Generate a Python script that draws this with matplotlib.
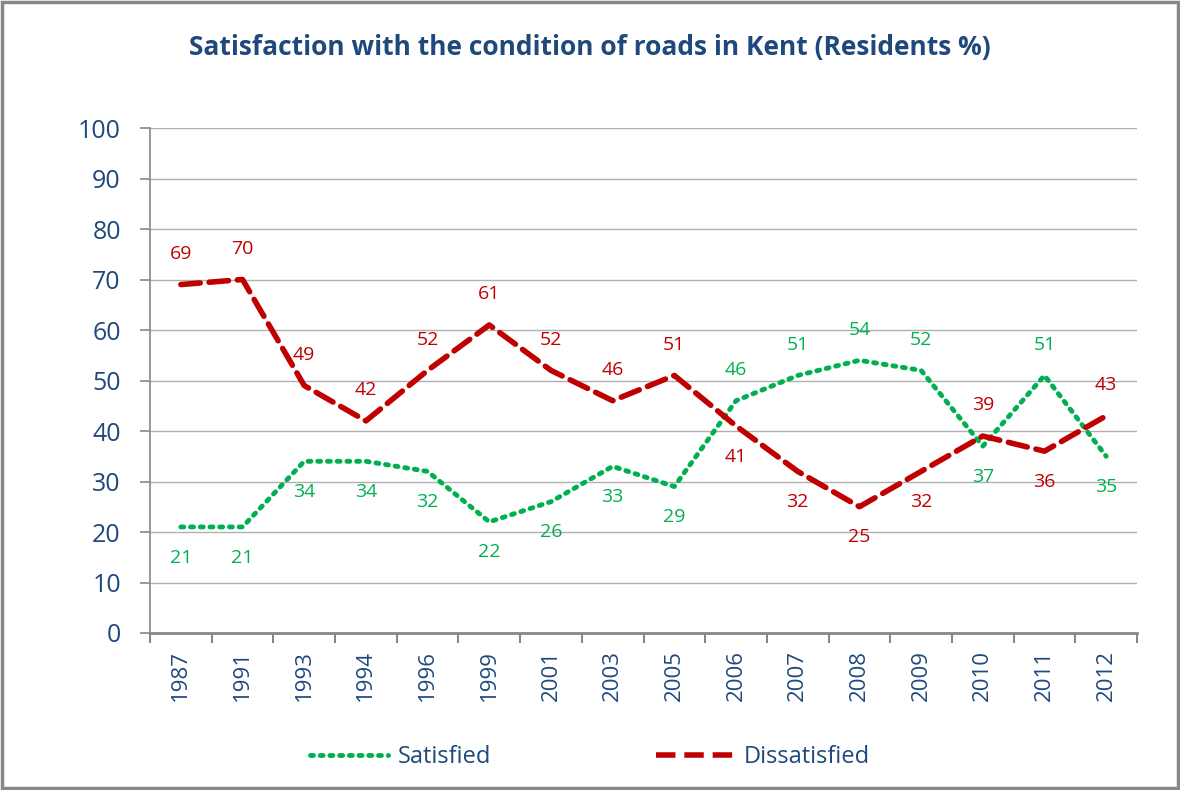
import matplotlib
matplotlib.use("Agg")
import matplotlib.pyplot as plt
from matplotlib import font_manager
from matplotlib.patches import Rectangle
from matplotlib.lines import Line2D

years = ["1987", "1991", "1993", "1994", "1996", "1999", "2001", "2003", "2005",
         "2006", "2007", "2008", "2009", "2010", "2011", "2012"]
satisfied = [21, 21, 34, 34, 32, 22, 26, 33, 29, 46, 51, 54, 52, 37, 51, 35]
dissatisfied = [69, 70, 49, 42, 52, 61, 52, 46, 51, 41, 32, 25, 32, 39, 36, 43]
# label placement: +1 above, -1 below
sat_pos = [-1, -1, -1, -1, -1, -1, -1, -1, -1, 1, 1, 1, 1, -1, 1, -1]
dis_pos = [1, 1, 1, 1, 1, 1, 1, 1, 1, -1, -1, -1, -1, 1, -1, 1]
yticks = list(range(0, 101, 10))

avail = {f.name for f in font_manager.fontManager.ttflist}
fam = "Liberation Sans Narrow" if "Liberation Sans Narrow" in avail else "Open Sans"
plt.rcParams["font.family"] = [fam, "DejaVu Sans"]

BLUE = "#1F497D"
GREEN = "#00B050"
RED = "#C00000"

fig = plt.figure(figsize=(11.8, 7.9), dpi=100)
fig.patches.append(Rectangle((0.002, 0.002), 0.996, 0.996, transform=fig.transFigure,
                             fill=False, edgecolor="#888888", linewidth=2.5))
ax = fig.add_axes([150 / 1180, 1 - 633 / 790, (1137 - 150) / 1180, (633 - 128) / 790])

x = list(range(len(years)))
ax.plot(x, satisfied, color=GREEN, linewidth=3.5, linestyle=(0, (0.6, 1.4)),
        dash_capstyle="round", solid_capstyle="round")
ax.plot(x, dissatisfied, color=RED, linewidth=4, linestyle=(0, (3.5, 1.6)),
        dash_capstyle="round")

for i in x:
    ax.annotate(str(satisfied[i]), (i, satisfied[i]), xytext=(0, 22 * sat_pos[i]),
                textcoords="offset points", ha="center", va="center",
                color=GREEN, fontsize=14)
    ax.annotate(str(dissatisfied[i]), (i, dissatisfied[i]), xytext=(0, 22 * dis_pos[i]),
                textcoords="offset points", ha="center", va="center",
                color=RED, fontsize=14)

ax.set_xlim(-0.5, len(years) - 0.5)
ax.set_ylim(0, 100)
ax.set_yticks(yticks)
ax.set_yticklabels([str(v) for v in yticks], fontsize=18, color=BLUE)
ax.set_xticks(x)
ax.set_xticklabels(years, rotation=90, fontsize=16, color=BLUE)
ax.tick_params(axis="x", length=0, pad=12)
ax.set_xticks([i - 0.5 for i in range(len(years) + 1)], minor=True)
ax.tick_params(axis="x", which="minor", length=7, width=1.5, color="#888888", direction="out")
ax.tick_params(axis="y", length=7, width=1.2, color="#888888", direction="out", pad=14)
ax.grid(axis="y", color="#B0B0B0", linewidth=1)
ax.set_axisbelow(True)
for s in ["top", "right"]:
    ax.spines[s].set_visible(False)
ax.spines["left"].set_color("#888888")
ax.spines["bottom"].set_color("#888888")
ax.spines["bottom"].set_linewidth(2)
ax.spines["left"].set_linewidth(1.2)

fig.text(0.5, 1 - 47 / 790, "Satisfaction with the condition of roads in Kent (Residents %)",
         ha="center", va="center", fontsize=19, fontweight="bold", color=BLUE)

handles = [Line2D([], [], color=GREEN, linewidth=3.5, linestyle=(0, (0.6, 1.4)),
                  dash_capstyle="round"),
           Line2D([], [], color=RED, linewidth=4, linestyle=(0, (3.5, 1.6)))]
leg = fig.legend(handles, ["Satisfied", "Dissatisfied"], loc="center",
                 bbox_to_anchor=(0.5, 1 - 757 / 790), ncol=2, frameon=False,
                 fontsize=17, handlelength=3.3, columnspacing=7, handletextpad=0.4)
for t in leg.get_texts():
    t.set_color(BLUE)

fig.savefig("out.png", dpi=100)
